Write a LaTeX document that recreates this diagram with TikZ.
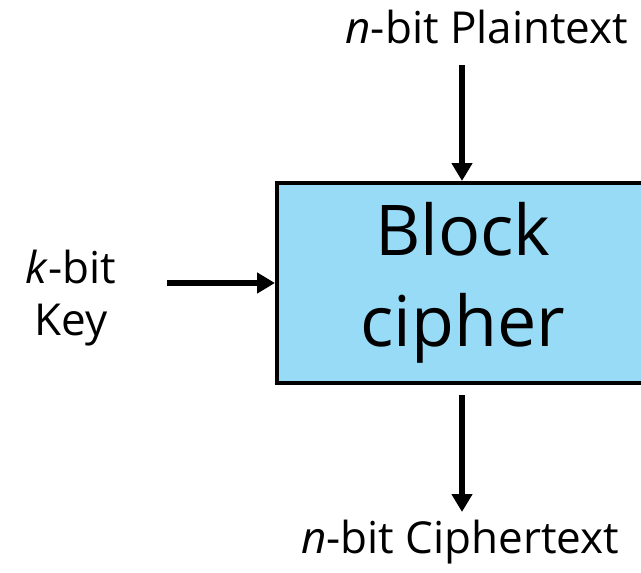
\documentclass[tikz,border=0pt]{standalone}
\usepackage{fontspec}
\setmainfont{Open Sans}
\usetikzlibrary{arrows.meta}
\definecolor{boxblue}{RGB}{151,219,247}
\tikzset{
  arr/.style={line width=5.5pt,-{Triangle[width=20pt,length=18pt]}},
  lbl/.style={inner sep=0pt,align=center,font=\fontsize{44}{52}\selectfont,anchor=base},
}
\begin{document}
\begin{tikzpicture}[x=1pt,y=-1pt]
\useasboundingbox (0,0) rectangle (641,573);
\node[draw=black,line width=4pt,fill=boxblue,minimum width=372pt,minimum height=200pt,inner sep=0pt,
      align=center,font=\fontsize{70}{91}\selectfont] (bc) at (463,283) {Block\\cipher};
\node[lbl] (pt) at (487,43) {\textit{n}-bit Plaintext};
\node[lbl] (ct) at (460,553) {\textit{n}-bit Ciphertext};
\node[lbl] (key) at (71,335) {\textit{k}-bit\\Key};
\coordinate (ptend) at (462,65);
\coordinate (ctstart) at (462,395);
\coordinate (ctend) at (462,512);
\coordinate (keyend) at (167,283);
\draw[arr] (ptend) -- (ptend |- bc.north);
\draw[arr] (ctstart) -- (ctend);
\draw[arr] (keyend) -- (bc.west);
\end{tikzpicture}
\end{document}
